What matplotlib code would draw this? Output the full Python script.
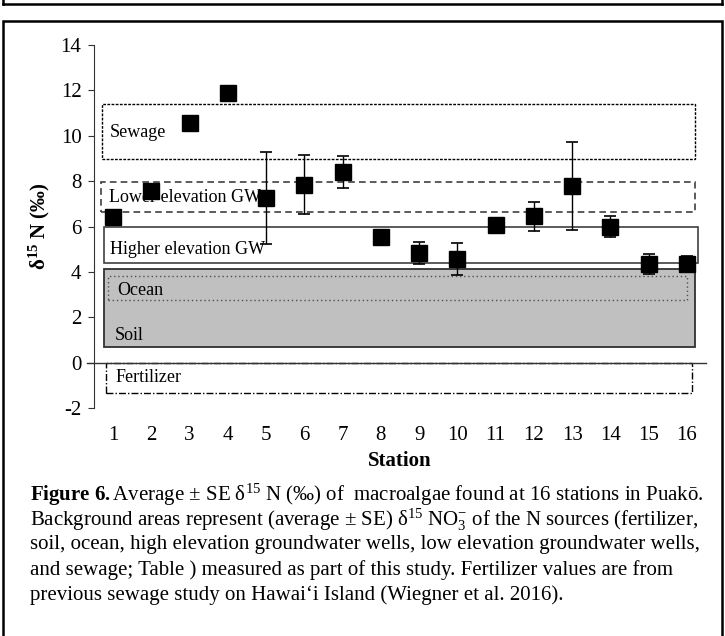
import matplotlib
matplotlib.use("Agg")
import matplotlib.pyplot as plt
from matplotlib.patches import Rectangle
from matplotlib.lines import Line2D

plt.rcParams["font.family"] = ["Liberation Serif", "DejaVu Serif"]
plt.rcParams["mathtext.fontset"] = "custom"
plt.rcParams["mathtext.rm"] = "Liberation Serif"
plt.rcParams["mathtext.it"] = "Liberation Serif:italic"
plt.rcParams["mathtext.bf"] = "Liberation Serif:bold"
plt.rcParams["axes.unicode_minus"] = False

# macroalgae d15N per station (mean, SE)
stations = list(range(1, 17))
means = [6.4, 7.57, 10.58, 11.9, 7.24, 7.83, 8.4, 5.52, 4.83, 4.57, 6.06, 6.46, 7.78, 5.99, 4.35, 4.35]
se = [0, 0, 0, 0, 2.03, 1.3, 0.72, 0.25, 0.5, 0.7, 0, 0.64, 1.93, 0.47, 0.44, 0.35]

# nitrate sources (low, high of average +/- SE)
sources = ["Sewage", "Lower elevation GW", "Higher elevation GW", "Soil", "Ocean", "Fertilizer"]
src_low = [8.97, 6.62, 4.39, 0.67, 2.76, -1.32]
src_high = [11.42, 7.94, 5.96, 4.13, 3.8, 0.0]

styles = {
    "Sewage": dict(x=(0.72, 16.2), fc="white", ec="black", ls=(0, (2, 1)), lw=1.0, lab=(0.92, 10.15)),
    "Lower elevation GW": dict(x=(0.68, 16.2), fc="white", ec="#404040", ls=(0, (4, 2.5)), lw=1.2, lab=(0.88, 7.28)),
    "Higher elevation GW": dict(x=(0.77, 16.3), fc="white", ec="#404040", ls="-", lw=1.2, lab=(0.92, 4.98)),
    "Soil": dict(x=(0.77, 16.2), fc="#c0c0c0", ec="#303030", ls="-", lw=1.3, lab=(1.05, 1.19)),
    "Ocean": dict(x=(0.87, 16.0), fc="none", ec="#505050", ls=(0, (1, 2)), lw=1.0, lab=(1.1, 3.2)),
    "Fertilizer": dict(x=(0.82, 16.13), fc="white", ec="black", ls=(0, (5, 1.5, 1, 1.5)), lw=1.0, lab=(1.05, -0.65)),
}

fig = plt.figure(figsize=(7.25, 6.36), dpi=100)
ax = fig.add_axes([94 / 725, 1 - 408 / 636, 612 / 725, 363 / 636])

for name, lo, hi in zip(sources, src_low, src_high):
    s = styles[name]
    ax.add_patch(Rectangle((s["x"][0], lo), s["x"][1] - s["x"][0], hi - lo,
                           facecolor=s["fc"], edgecolor=s["ec"], linestyle=s["ls"],
                           linewidth=s["lw"], zorder=1))
    ax.text(s["lab"][0], s["lab"][1], name, fontsize=13, va="center", ha="left", zorder=2)

ax.axhline(0, xmin=-0.012, xmax=1, color="#333333", lw=1.0, clip_on=False, zorder=3)

ax.errorbar(stations, means, yerr=se, fmt="none", ecolor="black", elinewidth=1.0,
            capsize=4, capthick=1.2, zorder=4)
ax.plot(stations, means, "s", color="black", markersize=12, zorder=5)

ax.set_xlim(0.5, 16.5)
ax.set_ylim(-2, 14)
ax.set_yticks(range(-2, 15, 2))
ax.set_xticks(stations)
for sp in ["top", "right", "bottom"]:
    ax.spines[sp].set_visible(False)
ax.spines["left"].set_color("#333333")
ax.tick_params(axis="y", direction="out", length=4, pad=5, labelsize=15, color="#333333")
ax.tick_params(axis="x", length=0, pad=13, labelsize=15)

ax.set_xlabel("Station", fontsize=15, fontweight="bold", labelpad=4)
ax.set_ylabel(r"$\mathbf{\delta^{15}}$ N (‰)", fontsize=15, fontweight="bold", labelpad=6)

# frames around the figure
fig.add_artist(Line2D([3 / 725, 722 / 725], [1 - 4 / 636, 1 - 4 / 636], color="black", lw=1.8))
fig.add_artist(Line2D([3 / 725, 3 / 725], [1, 1 - 4 / 636], color="black", lw=1.8))
fig.add_artist(Line2D([722 / 725, 722 / 725], [1, 1 - 4 / 636], color="black", lw=1.8))
fig.add_artist(Rectangle((3 / 725, -0.05), 719 / 725, 1.05 - 21 / 636, transform=fig.transFigure,
                         fill=False, edgecolor="black", lw=1.8))

caption = [
    r"$\mathbf{Figure\ 6.}$Average ± SE δ$^{15}$ N (‰) of  macroalgae found at 16 stations in Puakō.",
    r"Background areas represent (average ± SE) δ$^{15}$ NO$_3^{-}$ of the N sources (fertilizer,",
    "soil, ocean, high elevation groundwater wells, low elevation groundwater wells,",
    "and sewage; Table ) measured as part of this study. Fertilizer values are from",
    "previous sewage study on Hawai‘i Island (Wiegner et al. 2016).",
]
for i, line in enumerate(caption):
    fig.text(30 / 725, 1 - (495 + 25 * i) / 636, line, fontsize=15, va="center", ha="left")

fig.savefig("out.png", dpi=100)
